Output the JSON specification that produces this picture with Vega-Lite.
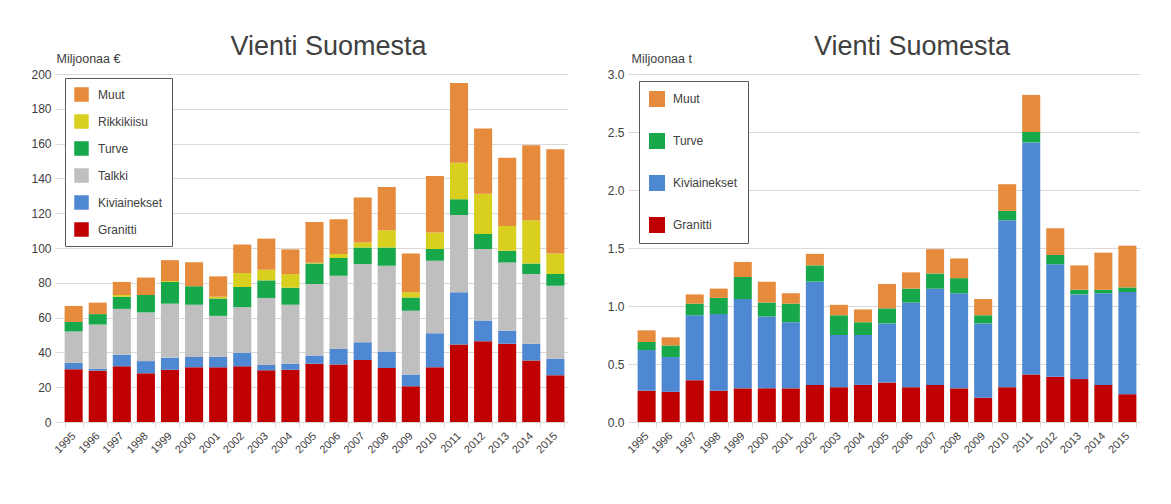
{
  "$schema": "https://vega.github.io/schema/vega-lite/v6.json",
  "padding": {"left": 30, "top": 33, "right": 10, "bottom": 5},
  "spacing": 39,
  "background": "white",
  "config": {
    "font": "Liberation Sans",
    "view": {"stroke": null},
    "axis": {"labelFont": "Liberation Sans", "labelColor": "#404040", "titleFont": "Liberation Sans", "titleColor": "#404040", "titleFontWeight": "normal"},
    "legend": {"labelFont": "Liberation Sans", "labelColor": "#404040"}
  },
  "datasets": {
    "eur": [
      {"year": "1995", "Granitti": 30.3, "Kiviainekset": 3.7, "Talkki": 18.0, "Turve": 5.5, "Rikkikiisu": 0, "Muut": 9.2},
      {"year": "1996", "Granitti": 29.5, "Kiviainekset": 1.0, "Talkki": 25.5, "Turve": 6.0, "Rikkikiisu": 0, "Muut": 6.6},
      {"year": "1997", "Granitti": 32.0, "Kiviainekset": 6.7, "Talkki": 26.3, "Turve": 7.0, "Rikkikiisu": 1.0, "Muut": 7.5},
      {"year": "1998", "Granitti": 28.0, "Kiviainekset": 7.0, "Talkki": 28.0, "Turve": 10.0, "Rikkikiisu": 0, "Muut": 10.0},
      {"year": "1999", "Granitti": 30.0, "Kiviainekset": 7.0, "Talkki": 31.0, "Turve": 12.5, "Rikkikiisu": 0.5, "Muut": 12.0},
      {"year": "2000", "Granitti": 31.4, "Kiviainekset": 6.0, "Talkki": 30.0, "Turve": 10.6, "Rikkikiisu": 0, "Muut": 13.8},
      {"year": "2001", "Granitti": 31.4, "Kiviainekset": 6.0, "Talkki": 23.6, "Turve": 10.0, "Rikkikiisu": 1.0, "Muut": 11.7},
      {"year": "2002", "Granitti": 32.0, "Kiviainekset": 7.7, "Talkki": 26.3, "Turve": 11.6, "Rikkikiisu": 8.0, "Muut": 16.4},
      {"year": "2003", "Granitti": 29.7, "Kiviainekset": 3.1, "Talkki": 38.5, "Turve": 10.1, "Rikkikiisu": 6.1, "Muut": 17.9},
      {"year": "2004", "Granitti": 30.0, "Kiviainekset": 3.5, "Talkki": 33.9, "Turve": 9.8, "Rikkikiisu": 7.8, "Muut": 14.2},
      {"year": "2005", "Granitti": 33.5, "Kiviainekset": 4.7, "Talkki": 41.1, "Turve": 11.8, "Rikkikiisu": 0.4, "Muut": 23.5},
      {"year": "2006", "Granitti": 33.0, "Kiviainekset": 9.0, "Talkki": 42.0, "Turve": 10.2, "Rikkikiisu": 2.3, "Muut": 20.0},
      {"year": "2007", "Granitti": 35.7, "Kiviainekset": 10.2, "Talkki": 44.9, "Turve": 9.5, "Rikkikiisu": 2.9, "Muut": 25.8},
      {"year": "2008", "Granitti": 31.0, "Kiviainekset": 9.5, "Talkki": 49.3, "Turve": 10.5, "Rikkikiisu": 9.9, "Muut": 24.8},
      {"year": "2009", "Granitti": 20.5, "Kiviainekset": 6.8, "Talkki": 36.7, "Turve": 7.6, "Rikkikiisu": 2.9, "Muut": 22.4},
      {"year": "2010", "Granitti": 31.5, "Kiviainekset": 19.5, "Talkki": 41.7, "Turve": 6.7, "Rikkikiisu": 9.5, "Muut": 32.5},
      {"year": "2011", "Granitti": 44.5, "Kiviainekset": 30.0, "Talkki": 44.5, "Turve": 9.0, "Rikkikiisu": 21.0, "Muut": 45.8},
      {"year": "2012", "Granitti": 46.4, "Kiviainekset": 11.9, "Talkki": 41.1, "Turve": 8.6, "Rikkikiisu": 23.2, "Muut": 37.5},
      {"year": "2013", "Granitti": 44.9, "Kiviainekset": 7.6, "Talkki": 39.2, "Turve": 6.7, "Rikkikiisu": 14.3, "Muut": 39.2},
      {"year": "2014", "Granitti": 35.4, "Kiviainekset": 9.5, "Talkki": 40.1, "Turve": 6.1, "Rikkikiisu": 24.9, "Muut": 43.1},
      {"year": "2015", "Granitti": 26.8, "Kiviainekset": 9.5, "Talkki": 42.0, "Turve": 6.7, "Rikkikiisu": 11.9, "Muut": 59.8}
    ],
    "ton": [
      {"year": "1995", "Granitti": 0.27, "Kiviainekset": 0.35, "Turve": 0.07, "Muut": 0.10},
      {"year": "1996", "Granitti": 0.26, "Kiviainekset": 0.30, "Turve": 0.10, "Muut": 0.07},
      {"year": "1997", "Granitti": 0.36, "Kiviainekset": 0.56, "Turve": 0.10, "Muut": 0.08},
      {"year": "1998", "Granitti": 0.27, "Kiviainekset": 0.66, "Turve": 0.14, "Muut": 0.08},
      {"year": "1999", "Granitti": 0.29, "Kiviainekset": 0.77, "Turve": 0.19, "Muut": 0.13},
      {"year": "2000", "Granitti": 0.29, "Kiviainekset": 0.62, "Turve": 0.12, "Muut": 0.18},
      {"year": "2001", "Granitti": 0.29, "Kiviainekset": 0.57, "Turve": 0.16, "Muut": 0.09},
      {"year": "2002", "Granitti": 0.32, "Kiviainekset": 0.89, "Turve": 0.14, "Muut": 0.10},
      {"year": "2003", "Granitti": 0.30, "Kiviainekset": 0.45, "Turve": 0.17, "Muut": 0.09},
      {"year": "2004", "Granitti": 0.32, "Kiviainekset": 0.43, "Turve": 0.11, "Muut": 0.11},
      {"year": "2005", "Granitti": 0.34, "Kiviainekset": 0.51, "Turve": 0.13, "Muut": 0.21},
      {"year": "2006", "Granitti": 0.30, "Kiviainekset": 0.73, "Turve": 0.12, "Muut": 0.14},
      {"year": "2007", "Granitti": 0.32, "Kiviainekset": 0.83, "Turve": 0.13, "Muut": 0.21},
      {"year": "2008", "Granitti": 0.29, "Kiviainekset": 0.82, "Turve": 0.13, "Muut": 0.17},
      {"year": "2009", "Granitti": 0.21, "Kiviainekset": 0.64, "Turve": 0.07, "Muut": 0.14},
      {"year": "2010", "Granitti": 0.30, "Kiviainekset": 1.44, "Turve": 0.08, "Muut": 0.23},
      {"year": "2011", "Granitti": 0.41, "Kiviainekset": 2.00, "Turve": 0.09, "Muut": 0.32},
      {"year": "2012", "Granitti": 0.39, "Kiviainekset": 0.97, "Turve": 0.08, "Muut": 0.23},
      {"year": "2013", "Granitti": 0.37, "Kiviainekset": 0.73, "Turve": 0.04, "Muut": 0.21},
      {"year": "2014", "Granitti": 0.32, "Kiviainekset": 0.79, "Turve": 0.03, "Muut": 0.32},
      {"year": "2015", "Granitti": 0.24, "Kiviainekset": 0.88, "Turve": 0.04, "Muut": 0.36}
    ]
  },
  "hconcat": [
    {
      "width": 507,
      "height": 348,
      "title": {"text": "Vienti Suomesta", "fontSize": 27, "fontWeight": "normal", "font": "Liberation Sans", "color": "#404040", "dx": 14, "offset": -9},
      "data": {"name": "eur"},
      "transform": [
        {"fold": ["Granitti", "Kiviainekset", "Talkki", "Turve", "Rikkikiisu", "Muut"], "as": ["kind", "value"]},
        {"window": [{"op": "row_number", "as": "layer"}], "groupby": ["year"]}
      ],
      "mark": {"type": "bar"},
      "encoding": {
        "x": {
          "field": "year", "type": "ordinal",
          "scale": {"paddingInner": 0.25, "paddingOuter": 0.15},
          "axis": {"title": null, "labelAngle": -45, "labelAlign": "right", "labelBaseline": "middle", "labelFontSize": 11, "labelPadding": 7, "domainColor": "#d9d9d9", "tickColor": "#d9d9d9", "tickBand": "extent", "tickSize": 5}
        },
        "y": {
          "field": "value", "type": "quantitative", "stack": "zero",
          "scale": {"domain": [0, 200], "nice": false},
          "axis": {"values": [0, 20, 40, 60, 80, 100, 120, 140, 160, 180, 200], "title": "Miljoonaa €", "titleAngle": 0, "titleX": -5, "titleY": -16, "titleAlign": "left", "titleBaseline": "middle", "titleFontSize": 12.5, "labelFontSize": 12, "gridColor": "#d9d9d9", "domain": false, "tickColor": "#d9d9d9", "tickSize": 6, "labelPadding": 4}
        },
        "order": {"field": "layer", "type": "quantitative", "sort": "ascending"},
        "color": {
          "field": "kind", "type": "nominal",
          "sort": ["Muut", "Rikkikiisu", "Turve", "Talkki", "Kiviainekset", "Granitti"],
          "scale": {"domain": ["Muut", "Rikkikiisu", "Turve", "Talkki", "Kiviainekset", "Granitti"], "range": ["#e68a3c", "#d8cf1f", "#17a84c", "#bfbfbf", "#4f88d2", "#c00000"]},
          "legend": {"title": null, "orient": "none", "legendX": 4, "legendY": 4, "strokeColor": "#595959", "padding": 9, "symbolType": "square", "symbolSize": 210, "symbolStrokeWidth": 0, "labelFontSize": 12, "labelOffset": 9, "rowPadding": 12, "fillColor": "white"}
        }
      }
    },
    {
      "width": 506,
      "height": 348,
      "title": {"text": "Vienti Suomesta", "fontSize": 27, "fontWeight": "normal", "font": "Liberation Sans", "color": "#404040", "dx": 25, "offset": -9},
      "data": {"name": "ton"},
      "transform": [
        {"fold": ["Granitti", "Kiviainekset", "Turve", "Muut"], "as": ["kind", "value"]},
        {"window": [{"op": "row_number", "as": "layer"}], "groupby": ["year"]}
      ],
      "mark": {"type": "bar"},
      "encoding": {
        "x": {
          "field": "year", "type": "ordinal",
          "scale": {"paddingInner": 0.25, "paddingOuter": 0.15},
          "axis": {"title": null, "labelAngle": -45, "labelAlign": "right", "labelBaseline": "middle", "labelFontSize": 11, "labelPadding": 7, "domainColor": "#d9d9d9", "tickColor": "#d9d9d9", "tickBand": "extent", "tickSize": 5}
        },
        "y": {
          "field": "value", "type": "quantitative", "stack": "zero",
          "scale": {"domain": [0, 3], "nice": false},
          "axis": {"values": [0, 0.5, 1, 1.5, 2, 2.5, 3], "format": ".1f", "title": "Miljoonaa t", "titleAngle": 0, "titleX": -3, "titleY": -16, "titleAlign": "left", "titleBaseline": "middle", "titleFontSize": 12.5, "labelFontSize": 12, "gridColor": "#d9d9d9", "domain": false, "tickColor": "#d9d9d9", "tickSize": 6, "labelPadding": 4}
        },
        "order": {"field": "layer", "type": "quantitative", "sort": "ascending"},
        "color": {
          "field": "kind", "type": "nominal",
          "sort": ["Muut", "Turve", "Kiviainekset", "Granitti"],
          "scale": {"domain": ["Muut", "Turve", "Kiviainekset", "Granitti"], "range": ["#e68a3c", "#17a84c", "#4f88d2", "#c00000"]},
          "legend": {"title": null, "orient": "none", "legendX": 5, "legendY": 7, "strokeColor": "#595959", "padding": 10, "symbolType": "square", "symbolSize": 256, "symbolStrokeWidth": 0, "labelFontSize": 12, "labelOffset": 8, "rowPadding": 26, "fillColor": "white"}
        }
      }
    }
  ],
  "resolve": {"scale": {"color": "independent"}, "legend": {"color": "independent"}}
}
